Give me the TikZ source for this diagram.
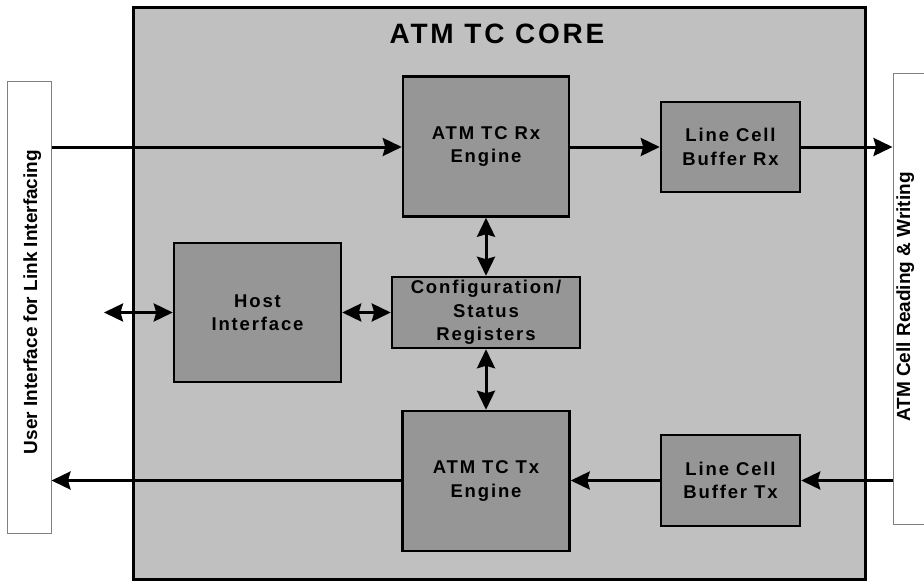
\documentclass[tikz,border=0pt]{standalone}
\usepackage{fontspec}
\setmainfont{Liberation Sans}
\newfontfamily\blkfont{Liberation Sans}[LetterSpace=10]
\usetikzlibrary{arrows.meta}

\definecolor{coregray}{RGB}{192,192,192}
\definecolor{blkgray}{RGB}{150,150,150}
\definecolor{sidegray}{RGB}{128,128,128}

\tikzset{
  blk/.style={draw=black, line width=2.5pt, fill=blkgray, inner sep=0pt, align=center,
    font=\blkfont\bfseries\fontsize{18.5}{23.5}\selectfont},
  sidebox/.style={draw=sidegray, line width=1pt, fill=white, inner sep=0pt},
  sidetext/.style={rotate=90, anchor=base, font=\bfseries\fontsize{19}{22}\selectfont},
  tip/.tip={Stealth[length=19pt, width=18pt, inset=2.5pt]},
  link/.style={line width=3pt, -tip},
  dlink/.style={line width=3pt, tip-tip},
}

\begin{document}
\begin{tikzpicture}[x=1pt, y=-1pt]
    \useasboundingbox (0,0) rectangle (924,581);
    % outer boxes
    \node [sidebox, minimum width=44, minimum height=452] (user) at (29,307) {};
    \node [sidetext] at (37,302) {User Interface for Link Interfacing};
    \node [sidebox, minimum width=60, minimum height=451] (cell) at (923,298.5) {};
    \node [sidetext] at (910,297) {ATM Cell Reading \& Writing};
    % core
    \node [draw, line width=3pt, fill=coregray, minimum width=732, minimum height=572] (core) at (499,293) {};
    \node [anchor=base, font=\blkfont\bfseries\fontsize{28}{32}\selectfont] (title) at (497,43) {ATM TC CORE};
    % blocks
    \node [blk, minimum width=166, minimum height=140] (rx) at (486,146.5) {ATM TC Rx\\Engine};
    \node [blk, minimum width=139, minimum height=90] (lcbrx) at (730.5,147) {Line Cell\\Buffer Rx};
    \node [blk, minimum width=188, minimum height=71] (cfg) at (486,312.5) {Configuration/\\Status\\Registers};
    \node [blk, minimum width=167, minimum height=139] (host) at (257.5,312.5) {Host\\Interface};
    \node [blk, minimum width=167, minimum height=140] (tx) at (486,481) {ATM TC Tx\\Engine};
    \node [blk, minimum width=139, minimum height=91] (lcbtx) at (730.5,480.5) {Line Cell\\Buffer Tx};
    \coordinate (hostbus) at (104,312.5);
    % data paths
    \draw [link] (lcbrx.west -| user.east) -- (lcbrx.west -| rx.west);
    \draw [link] (lcbrx.west -| rx.east) -- (lcbrx.west);
    \draw [link] (lcbrx.east) -- (lcbrx.east -| cell.west);
    \draw [link] (lcbtx.east -| cell.west) -- (lcbtx.east);
    \draw [link] (lcbtx.west) -- (lcbtx.west -| tx.east);
    \draw [link] (lcbtx.west -| tx.west) -- (lcbtx.west -| user.east);
    % register access
    \draw [dlink] (hostbus) -- (host.west);
    \draw [dlink] (host.east) -- (cfg.west);
    \draw [dlink] (rx.south) -- (cfg.north);
    \draw [dlink] (cfg.south) -- (tx.north);
\end{tikzpicture}
\end{document}
